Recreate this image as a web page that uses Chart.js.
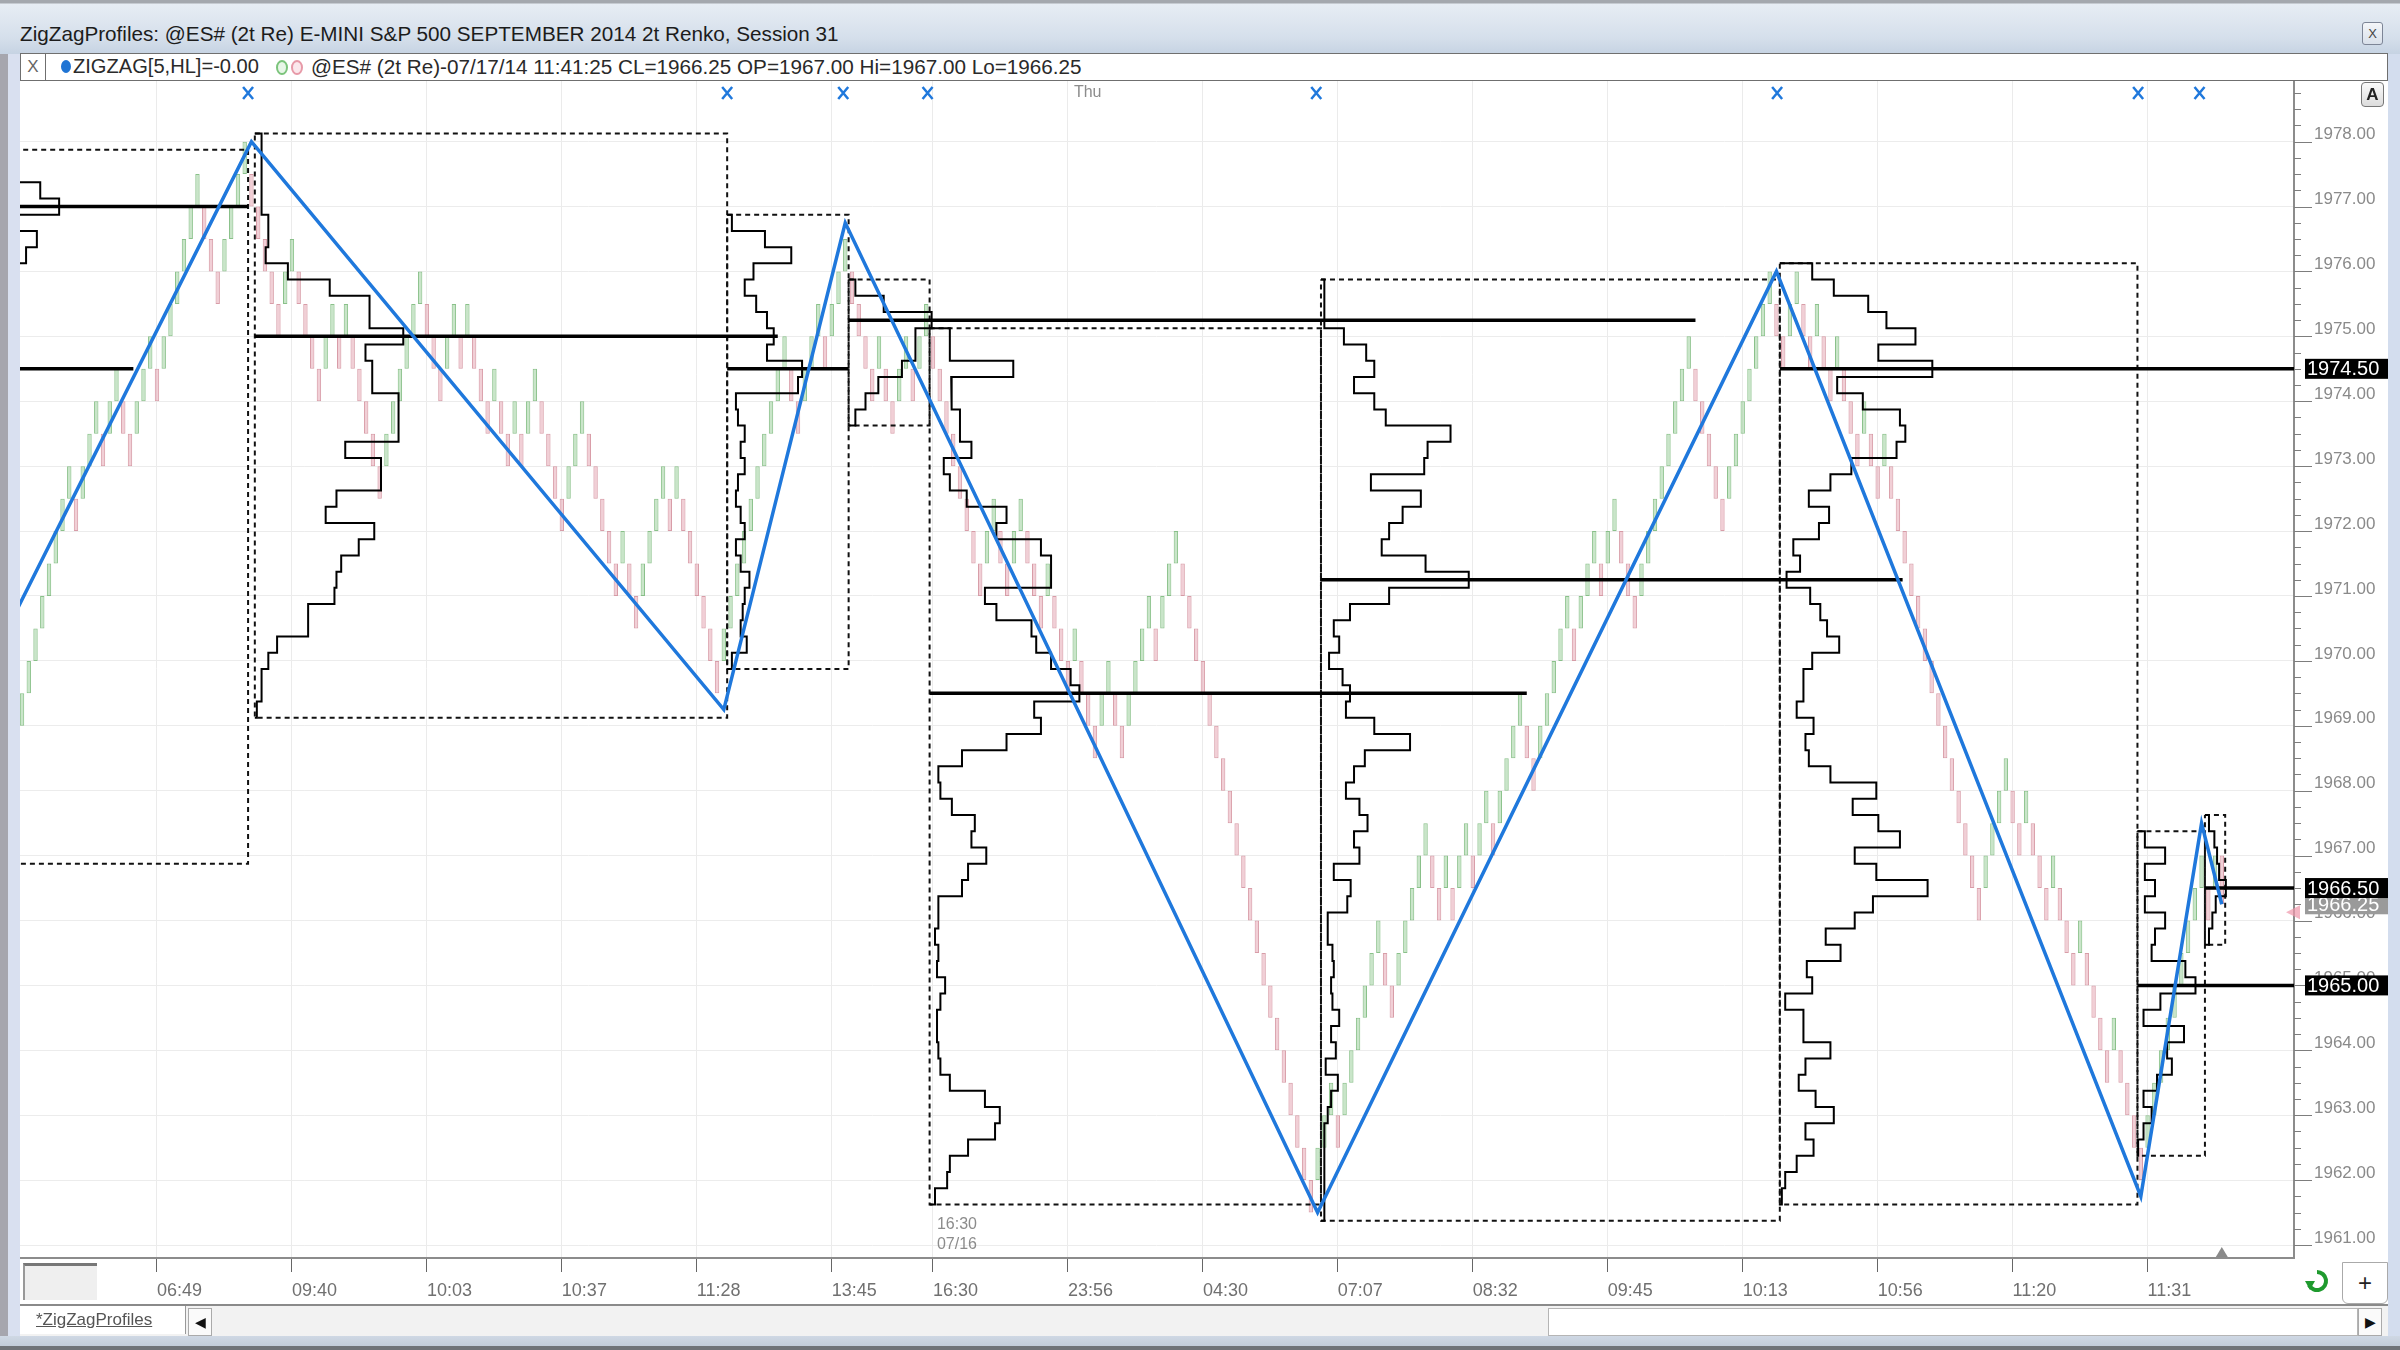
<!DOCTYPE html>
<html lang="en">
<head>
<meta charset="UTF-8">
<title>ZigZagProfiles</title>
<script src="https://cdn.jsdelivr.net/npm/chart.js@4"></script>
<style>
  body { margin:0; width:2400px; height:1350px; position:relative; overflow:hidden; background:#d3dbe7; font-family:"Liberation Sans", Arial, sans-serif; }
  .abs { position:absolute; }
  #titlebar { left:0; top:0; width:2400px; height:54px; background:linear-gradient(#a4a8ae 0, #a4a8ae 3px, #e7edf4 4px, #d5dfeb 38px, #c6d3e3 54px); }
  #title { left:20px; top:22px; font-size:20.7px; color:#1c1c1c; white-space:nowrap; }
  #closeBtn { left:2362px; top:22px; width:19px; height:21px; border:1px solid #7d8596; border-radius:3px; background:linear-gradient(#f4f6f9,#d9e0ea); font-size:13px; line-height:21px; text-align:center; color:#444; }
  #leftFrame { left:0; top:54px; width:8px; height:1284px; background:#a6a6ae; }
  #leftFrame2 { left:8px; top:54px; width:12px; height:1284px; background:#d9e0f0; }
  #rightFrame { left:2388px; top:54px; width:12px; height:1284px; background:#d3ddee; }
  #legend { left:20px; top:53px; width:2366px; height:26px; background:#fff; border:1px solid #6f6f6f; font-size:20.7px; color:#2a2a2a; white-space:nowrap; }
  #legX { left:0; top:0; width:24px; height:26px; border-right:1px solid #6f6f6f; text-align:center; line-height:26px; color:#666; font-size:17px; }
  .dot { top:6px; width:10px; height:13px; border-radius:50%; }
  #panel { left:20px; top:80px; width:2368px; height:1224px; background:#fff; }
  #chart { left:20px; top:80px; }
  #btnA { left:2361px; top:82px; width:21px; height:23px; border:1px solid #777; border-radius:4px; background:linear-gradient(#fafafa,#dcdcdc); font-size:17px; font-weight:bold; line-height:23px; text-align:center; color:#222; }
  #cornerBox { left:23px; top:1263px; width:72px; height:34px; background:#efefef; border-top:3px solid #777; border-left:2px solid #999; }
  #plusBtn { left:2342px; top:1262px; width:44px; height:40px; background:#fff; border:1px solid #aaa; border-radius:0 0 6px 6px; font-size:24px; line-height:40px; text-align:center; color:#222; }
  #refresh { left:2304px; top:1268px; }
  #tabbar { left:20px; top:1304px; width:2368px; height:32px; background:#f2f2f2; border-top:2px solid #8a8a8a; }
  #tab { left:0; top:0; width:166px; height:28px; background:#fff; border-right:1px solid #999; font-size:17px; color:#555; text-decoration:underline; line-height:28px; padding-left:16px; box-sizing:border-box; }
  .arrowBtn { top:2px; width:22px; height:26px; background:#fafafa; border:1px solid #aaa; font-size:14px; line-height:26px; text-align:center; color:#111; }
  #thumb { left:1528px; top:2px; width:808px; height:26px; background:#fff; border:1px solid #b5b5b5; }
  #bottomFrame { left:0; top:1336px; width:2400px; height:14px; background:linear-gradient(#cfd8e4,#c2ccd9 10px,#6f7378 10px); }
</style>
</head>
<body>
<div id="titlebar" class="abs"></div>
<div id="title" class="abs">ZigZagProfiles: @ES# (2t Re) E-MINI S&amp;P 500 SEPTEMBER 2014 2t Renko, Session 31</div>
<div id="closeBtn" class="abs">X</div>
<div id="leftFrame" class="abs"></div>
<div id="leftFrame2" class="abs"></div>
<div id="rightFrame" class="abs"></div>
<div id="panel" class="abs"></div>
<canvas id="chart" class="abs" width="2368" height="1224"></canvas>
<div id="legend" class="abs">
  <div id="legX" class="abs">X</div>
  <span class="abs dot" style="left:40px;background:#1f74d4;"></span>
  <span class="abs" style="left:52px;top:1px;font-size:20.1px;">ZIGZAG[5,HL]=-0.00</span>
  <span class="abs dot" style="left:255px;border:2px solid #7cc47c;background:#e8f6e8;width:8px;height:11px;"></span>
  <span class="abs dot" style="left:270px;border:2px solid #e79aa8;background:#fbe8ec;width:8px;height:11px;"></span>
  <span class="abs" style="left:290px;top:1px;">@ES# (2t Re)-07/17/14 11:41:25 CL=1966.25 OP=1967.00 Hi=1967.00 Lo=1966.25</span>
</div>
<div id="btnA" class="abs">A</div>
<div id="cornerBox" class="abs"></div>
<svg id="refresh" class="abs" width="26" height="28" viewBox="0 0 26 28">
  <path d="M13 4 A9 9 0 1 1 5 17" fill="none" stroke="#1f9a2e" stroke-width="4"/>
  <path d="M1 13 L6 22 L11 13 Z" fill="#1f9a2e"/>
</svg>
<div id="plusBtn" class="abs">+</div>
<div id="tabbar" class="abs">
  <div id="tab" class="abs">*ZigZagProfiles</div>
  <div class="abs arrowBtn" style="left:168px;">&#9664;</div>
  <div id="thumb" class="abs"></div>
  <div class="abs arrowBtn" style="left:2338px;">&#9654;</div>
</div>
<div id="bottomFrame" class="abs"></div>

<script>
  // ---- data ----
  // renko closes, one per bar (bar index 0 = first bar on screen)
  const closes = [
    1969.5, 1970.0, 1970.5, 1971.0, 1971.5, 1972.0, 1972.5, 1973.0, 1972.0, 1973.0,
    1973.5, 1974.0, 1973.0, 1974.0, 1974.5, 1973.5, 1973.0, 1974.0, 1974.5, 1975.0,
    1974.0, 1975.0, 1975.5, 1976.0, 1976.5, 1977.0, 1977.5, 1976.5, 1976.0, 1975.5,
    1976.5, 1977.0, 1977.5, 1978.0, 1977.0, 1976.5, 1976.0, 1975.5, 1975.0, 1976.0,
    1976.5, 1975.5, 1975.0, 1974.5, 1974.0, 1975.0, 1975.5, 1974.5, 1975.5, 1974.5,
    1974.0, 1973.5, 1973.0, 1972.5, 1973.5, 1974.0, 1974.5, 1975.0, 1975.5, 1976.0,
    1975.0, 1974.5, 1974.0, 1975.0, 1975.5, 1974.5, 1975.5, 1974.5, 1974.0, 1973.5,
    1974.5, 1973.5, 1973.0, 1974.0, 1973.0, 1974.0, 1974.5, 1973.5, 1973.0, 1972.5,
    1972.0, 1973.0, 1973.5, 1974.0, 1973.0, 1972.5, 1972.0, 1971.5, 1971.0, 1972.0,
    1971.0, 1970.5, 1971.5, 1972.0, 1972.5, 1973.0, 1972.0, 1973.0, 1972.0, 1971.5,
    1971.0, 1970.5, 1970.0, 1969.5, 1970.5, 1971.0, 1971.5, 1972.0, 1972.5, 1973.0,
    1973.5, 1974.0, 1974.5, 1975.0, 1974.0, 1973.5, 1974.5, 1975.0, 1975.5, 1974.5,
    1975.5, 1976.0, 1976.5, 1975.5, 1975.0, 1974.5, 1974.0, 1975.0, 1974.0, 1973.5,
    1974.5, 1975.0, 1974.0, 1975.0, 1975.5, 1974.5, 1974.0, 1973.5, 1973.0, 1972.5,
    1972.0, 1971.5, 1971.0, 1972.0, 1972.5, 1971.5, 1971.0, 1972.0, 1972.5, 1971.5,
    1971.0, 1970.5, 1971.5, 1970.5, 1970.0, 1969.5, 1970.5, 1969.5, 1969.0, 1968.5,
    1969.5, 1970.0, 1969.0, 1968.5, 1969.5, 1970.0, 1970.5, 1971.0, 1970.0, 1971.0,
    1971.5, 1972.0, 1971.0, 1970.5, 1970.0, 1969.5, 1969.0, 1968.5, 1968.0, 1967.5,
    1967.0, 1966.5, 1966.0, 1965.5, 1965.0, 1964.5, 1964.0, 1963.5, 1963.0, 1962.5,
    1962.0, 1961.5, 1962.5, 1963.0, 1963.5, 1962.5, 1963.5, 1964.0, 1964.5, 1965.0,
    1965.5, 1966.0, 1965.0, 1964.5, 1965.5, 1966.0, 1966.5, 1967.0, 1967.5, 1966.5,
    1966.0, 1967.0, 1966.0, 1967.0, 1967.5, 1966.5, 1967.5, 1968.0, 1967.0, 1968.0,
    1968.5, 1969.0, 1969.5, 1968.5, 1968.0, 1969.0, 1969.5, 1970.0, 1970.5, 1971.0,
    1970.0, 1971.0, 1971.5, 1972.0, 1971.0, 1972.0, 1972.5, 1971.5, 1971.0, 1970.5,
    1971.5, 1972.0, 1972.5, 1973.0, 1973.5, 1974.0, 1974.5, 1975.0, 1974.0, 1973.5,
    1973.0, 1972.5, 1972.0, 1973.0, 1973.5, 1974.0, 1974.5, 1975.0, 1975.5, 1976.0,
    1975.0, 1974.5, 1975.5, 1976.0, 1975.0, 1974.5, 1975.5, 1974.5, 1974.0, 1975.0,
    1974.0, 1973.5, 1973.0, 1974.0, 1973.0, 1972.5, 1973.5, 1972.5, 1972.0, 1971.5,
    1971.0, 1970.5, 1970.0, 1969.5, 1969.0, 1968.5, 1968.0, 1967.5, 1967.0, 1966.5,
    1966.0, 1967.0, 1967.5, 1968.0, 1968.5, 1967.5, 1967.0, 1968.0, 1967.0, 1966.5,
    1966.0, 1967.0, 1966.0, 1965.5, 1965.0, 1966.0, 1965.0, 1964.5, 1964.0, 1963.5,
    1964.5, 1963.5, 1963.0, 1962.5, 1962.0, 1963.0, 1963.5, 1964.0, 1964.5, 1965.0,
    1965.5, 1966.0, 1966.5, 1967.0, 1966.0, 1967.0, 1966.25
  ];
  const prevClose = 1969.0;   // close of the bar just left of the screen

  // zigzag pivots
  const zzBars   = [-19, 34, 104, 122, 192, 260, 314, 323, 326];
  const zzPrices = [1967.0, 1978.0, 1969.25, 1976.75, 1961.5, 1976.0, 1961.75, 1967.5, 1966.25];
  // pivot markers along the top
  const markerBars = [33.5, 104.5, 121.7, 134.2, 191.8, 260.1, 313.6, 322.7];

  // swing boxes: first/last bar, high/low
  const boxFirst = [-18, 35, 105, 123, 135, 193, 261, 314, 324];
  const boxLast  = [33, 104, 122, 134, 192, 260, 313, 323, 326];
  const boxHigh  = [1977.75, 1978.0, 1976.75, 1975.75, 1975.0, 1975.75, 1976.0, 1967.25, 1967.5];
  const boxLow   = [1967.0, 1969.25, 1970.0, 1973.75, 1961.75, 1961.5, 1961.75, 1962.5, 1965.75];

  // volume profiles: top price, then volume per 0.25 tick going down
  const profTop = [1977.25, 1978.0, 1976.75, 1975.75, 1975.0, 1975.75, 1976.0, 1967.25, 1967.5];
  const profA = [212, 240, 180, 207, 191];
  const profB = [10, 10, 10, 10, 10, 20, 20, 16, 49, 111, 170, 170, 220, 164, 174, 174, 213, 213,
                 213, 134, 187, 187, 121, 105, 177, 154, 128, 121, 118, 79, 79, 33, 20, 10, 10, 3];
  const profC = [7, 56, 95, 39, 26, 43, 59, 69, 59, 111, 105, 13, 16, 26, 20, 26, 16, 13, 20, 26,
                 13, 20, 33, 26, 23, 20, 29, 7];
  const profD = [10, 52, 123, 99, 99, 79, 44, 25, 10];
  const profE = [30, 30, 124, 32, 33, 45, 45, 62, 21, 30, 55, 114, 99, 165, 180, 180, 82, 99, 151,
                 158, 180, 209, 222, 155, 165, 114, 48, 13, 16, 33, 67, 62, 84, 57, 48, 13, 13, 8,
                 13, 11, 23, 16, 11, 11, 13, 16, 30, 82, 104, 97, 57, 30, 26, 8];
  const profF = [5, 5, 5, 34, 67, 79, 49, 79, 96, 192, 158, 153, 74, 148, 121, 101, 90, 155, 219,
                 101, 43, 19, 27, 12, 32, 43, 37, 79, 132, 65, 49, 37, 57, 69, 49, 57, 19, 44, 39,
                 10, 10, 17, 19, 15, 17, 27, 15, 22, 7, 25, 15, 10, 5, 5, 5, 5, 5, 5];
  const profG = [48, 80, 131, 158, 201, 146, 226, 85, 123, 178, 186, 173, 106, 75, 43, 73, 58, 20,
                 30, 10, 45, 60, 70, 88, 48, 35, 35, 25, 50, 38, 43, 75, 143, 108, 146, 178, 111,
                 143, 219, 138, 111, 68, 90, 40, 48, 8, 35, 35, 75, 38, 28, 53, 80, 38, 50, 25, 8, 3];
  const profH = [11, 41, 11, 26, 11, 41, 26, 21, 71, 86, 34, 9, 69, 44, 51, 29, 9, 21, 9, 1];
  const profI = [6, 14, 18, 21, 31, 16, 11, 6];

  // point-of-control lines: price, start bar, end bar
  const pocPrice = [1974.5, 1977.0, 1975.0, 1974.5, 1975.25, 1969.5, 1971.25, 1974.5, 1965.0, 1966.5];
  const pocStart = [-40, -18.5, 34.5, 104.5, 122.5, 134.5, 192.5, 260.5, 313.5, 323.5];
  const pocEnd   = [16.5, 33.5, 112, 122.5, 248, 223, 278.7, 340, 340, 340];
  const openPocs = [7, 8, 9];   // still untouched, tagged on the price axis

  // time axis
  const tickBars   = [20, 40, 60, 80, 100, 120, 135, 155, 175, 195, 215, 235, 255, 275, 295, 315];
  const tickLabels = ['06:49', '09:40', '10:03', '10:37', '11:28', '13:45', '16:30', '23:56',
                      '04:30', '07:07', '08:32', '09:45', '10:13', '10:56', '11:20', '11:31'];
  const sessionBar = 135;   // 16:30 07/16
  const dayBar = 155;       // Thu

  // ---- build datasets ----
  const TICK = 0.25;
  const VOL_SCALE = 0.1;   // bar widths per volume unit
  const BLUE = '#1f78dc';

  const bodies = closes.map((c, i) => {
    const p = i ? closes[i - 1] : prevClose;
    const d = c - p;
    const open = Math.abs(d) >= 1 ? c - Math.sign(d) * 0.5 : p;
    return { x: i, y: [Math.min(open, c), Math.max(open, c)], up: d > 0 };
  });

  const datasets = [{
    type: 'bar',
    data: bodies,
    backgroundColor: c => c.raw && c.raw.up ? 'rgba(165,212,165,0.6)' : 'rgba(232,175,186,0.6)',
    borderColor: c => c.raw && c.raw.up ? 'rgba(125,186,125,0.9)' : 'rgba(212,146,158,0.9)',
    borderWidth: 1,
    borderSkipped: false,
    barPercentage: 0.65,
    categoryPercentage: 1,
    order: 5
  }];

  boxFirst.forEach((f, k) => {
    const x1 = f - 0.5, x2 = boxLast[k] + 0.5;
    const hi = boxHigh[k] + TICK / 2, lo = boxLow[k] - TICK / 2;
    datasets.push({
      type: 'line',
      data: [{x: x1, y: hi}, {x: x2, y: hi}, {x: x2, y: lo}, {x: x1, y: lo}, {x: x1, y: hi}],
      borderColor: '#111', borderWidth: 2, borderDash: [5, 4],
      pointRadius: 0, fill: false, tension: 0, order: 4
    });
  });

  const profiles = [profA, profB, profC, profD, profE, profF, profG, profH, profI];
  profiles.forEach((vols, k) => {
    const base = boxFirst[k] - 0.5;
    const top = profTop[k];
    const pts = [{x: base, y: top + TICK / 2}];
    vols.forEach((v, j) => {
      const price = top - j * TICK;
      const x = base + v * VOL_SCALE;
      pts.push({x: x, y: price + TICK / 2}, {x: x, y: price - TICK / 2});
    });
    pts.push({x: base, y: top - (vols.length - 1) * TICK - TICK / 2});
    datasets.push({
      type: 'line', data: pts,
      borderColor: '#000', borderWidth: 2,
      pointRadius: 0, fill: false, tension: 0, order: 3
    });
  });

  pocPrice.forEach((p, k) => {
    datasets.push({
      type: 'line',
      data: [{x: pocStart[k], y: p}, {x: pocEnd[k], y: p}],
      borderColor: '#000', borderWidth: 3.5,
      pointRadius: 0, fill: false, order: 2
    });
  });

  datasets.push({
    type: 'line',
    data: zzBars.map((b, k) => ({x: b, y: zzPrices[k]})),
    borderColor: BLUE, borderWidth: 3.5,
    pointRadius: 0, fill: false, tension: 0, order: 1
  });

  // ---- extra drawing on top: axis ticks, markers, tags ----
  const overlay = {
    id: 'overlay',
    afterDraw(chart) {
      const {ctx, chartArea: a} = chart;
      const xs = chart.scales.x, ys = chart.scales.y;
      ctx.save();

      // price axis tick marks, long on whole points
      ctx.strokeStyle = '#7d7d7d';
      ctx.lineWidth = 1;
      ys.ticks.forEach(t => {
        const py = Math.round(ys.getPixelForValue(t.value)) + 0.5;
        const len = Number.isInteger(t.value) ? 18 : 7;
        ctx.beginPath();
        ctx.moveTo(a.right, py);
        ctx.lineTo(a.right + len, py);
        ctx.stroke();
      });

      // pivot markers
      ctx.strokeStyle = BLUE;
      ctx.lineWidth = 2.5;
      markerBars.forEach(b => {
        const px = xs.getPixelForValue(b), py = a.top + 13;
        ctx.beginPath();
        ctx.moveTo(px - 5, py - 6); ctx.lineTo(px + 5, py + 6);
        ctx.moveTo(px + 5, py - 6); ctx.lineTo(px - 5, py + 6);
        ctx.stroke();
      });

      // session / day labels
      ctx.fillStyle = '#8c8c8c';
      ctx.font = '16px "Liberation Sans"';
      ctx.textAlign = 'left';
      ctx.textBaseline = 'middle';
      ctx.fillText('Thu', xs.getPixelForValue(dayBar) + 6, a.top + 13);
      const sx = xs.getPixelForValue(sessionBar) + 4;
      ctx.fillText('16:30', sx, a.bottom - 33);
      ctx.fillText('07/16', sx, a.bottom - 13);

      // last bar marker on the time axis
      const lx = xs.getPixelForValue(closes.length - 1);
      ctx.fillStyle = '#8a8a8a';
      ctx.beginPath();
      ctx.moveTo(lx - 6, a.bottom - 1); ctx.lineTo(lx + 6, a.bottom - 1); ctx.lineTo(lx, a.bottom - 11);
      ctx.closePath(); ctx.fill();

      // price tags
      const tag = (value, bg) => {
        const py = ys.getPixelForValue(value);
        ctx.fillStyle = bg;
        ctx.fillRect(a.right + 11, py - 10, 83, 20);
        ctx.fillStyle = '#fff';
        ctx.font = '20px "Liberation Sans"';
        ctx.fillText(value.toFixed(2), a.right + 13, py + 1);
      };
      const last = closes[closes.length - 1];
      const lpy = ys.getPixelForValue(last) + 8;
      tag(last, '#9a9a9a');
      ctx.fillStyle = 'rgba(240,150,170,0.7)';
      ctx.beginPath();
      ctx.moveTo(a.right - 8, lpy); ctx.lineTo(a.right + 6, lpy - 7); ctx.lineTo(a.right + 6, lpy + 7);
      ctx.closePath(); ctx.fill();
      openPocs.forEach(k => tag(pocPrice[k], '#000'));

      ctx.restore();
    }
  };

  new Chart(document.getElementById('chart'), {
    type: 'bar',
    data: { datasets: datasets },
    options: {
      responsive: false,
      animation: false,
      layout: { padding: 0 },
      plugins: { legend: { display: false }, tooltip: { enabled: false } },
      scales: {
        x: {
          type: 'linear',
          min: -0.3,
          max: 336.7,
          offset: false,
          grid: { color: '#ebebeb', offset: false, tickLength: 14, tickColor: '#666' },
          border: { display: true, color: '#8c8c8c', width: 2 },
          ticks: {
            autoSkip: false, maxRotation: 0, align: 'start', padding: 8,
            color: '#707070', font: { family: 'Liberation Sans', size: 18 },
            callback: v => tickLabels[tickBars.indexOf(v)]
          },
          afterBuildTicks: s => { s.ticks = tickBars.map(v => ({ value: v })); },
          afterFit: s => { s.height = 46; s.paddingLeft = 0; s.paddingRight = 0; }
        },
        y: {
          position: 'right',
          min: 1960.8,
          max: 1978.95,
          grid: { color: c => Number.isInteger(c.tick.value) ? '#ececec' : 'rgba(0,0,0,0)', drawTicks: false },
          border: { display: true, color: '#8c8c8c', width: 2 },
          ticks: {
            stepSize: 0.25, includeBounds: false, autoSkip: false, padding: 20, labelOffset: -7,
            color: '#8a8a8a', font: { family: 'Liberation Sans', size: 17 },
            callback: v => Number.isInteger(v) ? v.toFixed(2) : ''
          },
          afterFit: s => { s.width = 94; s.paddingTop = 0; s.paddingBottom = 0; }
        }
      }
    },
    plugins: [overlay]
  });
</script>
</body>
</html>
